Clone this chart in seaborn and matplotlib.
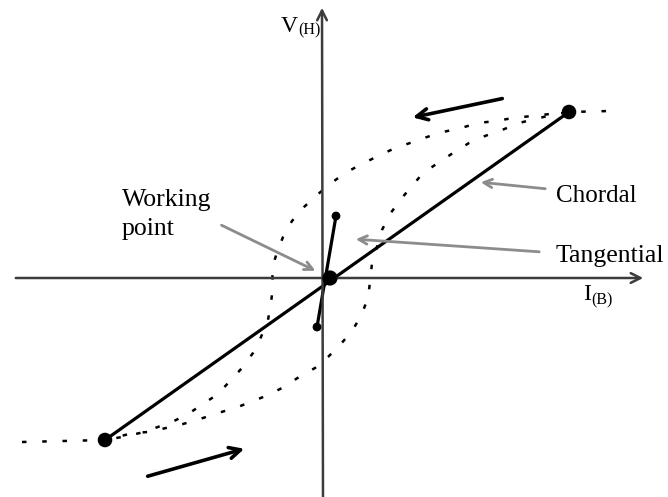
import numpy as np
import pandas as pd
import matplotlib
matplotlib.use("Agg")
import matplotlib.pyplot as plt
import seaborn as sns

# ---- data (arbitrary units, origin at the axes crossing) ----
desc_I = [2.46, 2.27, 2.09, 1.90, 1.73, 1.55, 1.38, 1.20, 1.04, 0.87, 0.70, 0.53,
          0.37, 0.22, 0.07, -0.06, -0.19, -0.31, -0.40, -0.46, -0.51, -0.50, -0.52,
          -0.55, -0.62, -0.70, -0.81, -0.93, -1.05, -1.20, -1.35, -1.51, -1.68,
          -1.83, -2.01, -2.18]
desc_V = [1.66, 1.64, 1.62, 1.60, 1.57, 1.55, 1.50, 1.46, 1.41, 1.35, 1.29, 1.21,
          1.13, 1.05, 0.94, 0.83, 0.71, 0.57, 0.41, 0.26, 0.09, -0.08, -0.25,
          -0.42, -0.59, -0.75, -0.90, -1.03, -1.16, -1.26, -1.36, -1.44, -1.50,
          -1.55, -1.59, -1.62]
asc_I = [-3.01, -2.18, -2.06, -1.90, -1.75, -1.57, -1.40, -1.23, -1.05, -0.88, -0.72,
         -0.55, -0.39, -0.24, -0.08, 0.05, 0.17, 0.29, 0.38, 0.45, 0.47, 0.49,
         0.54, 0.59, 0.67, 0.78, 0.89, 1.00, 1.15, 1.30, 1.46, 1.62, 1.79, 1.96,
         2.12, 2.29, 2.46, 2.87]
asc_V = [-1.64, -1.62, -1.59, -1.55, -1.54, -1.50, -1.46, -1.41, -1.35, -1.30, -1.24,
         -1.17, -1.09, -0.99, -0.90, -0.79, -0.67, -0.53, -0.38, -0.20, -0.04, 0.15,
         0.31, 0.48, 0.64, 0.79, 0.92, 1.05, 1.15, 1.25, 1.35, 1.42, 1.48, 1.55,
         1.59, 1.63, 1.66, 1.67]

chord_I = [-2.18, 2.46]
chord_V = [-1.62, 1.66]
tang_I = [0.13, -0.06]
tang_V = [0.62, -0.49]
work_I = [0.07]
work_V = [0.0]

labels = ["Working\npoint", "Chordal", "Tangential"]

# ---- figure ----
sns.set_style("white")
plt.rcParams["font.family"] = ["Liberation Serif", "DejaVu Serif"]

fig = plt.figure(figsize=(6.68, 4.97), dpi=100)
ax = fig.add_axes([0, 0, 1, 1])
ax.set_xlim(-3.23, 3.45)
ax.set_ylim(-2.19, 2.78)
ax.axis("off")

axis_col = "#3c3c3c"
# coordinate axes
ax.annotate("", xy=(3.23, 0.0), xytext=(-3.10, 0.0),
            arrowprops=dict(arrowstyle="->,head_length=0.7,head_width=0.35",
                            color=axis_col, lw=1.8))
ax.annotate("", xy=(-0.01, 2.73), xytext=(0.0, -2.25),
            arrowprops=dict(arrowstyle="->,head_length=0.7,head_width=0.35",
                            color=axis_col, lw=1.8))

dot_ls = (0, (1.8, 6.3))
df_d = pd.DataFrame({"I": desc_I, "V": desc_V})
df_a = pd.DataFrame({"I": asc_I, "V": asc_V})
sns.lineplot(data=df_d, x="I", y="V", sort=False, estimator=None, ax=ax,
             color="black", lw=1.8, linestyle=dot_ls)
sns.lineplot(data=df_a, x="I", y="V", sort=False, estimator=None, ax=ax,
             color="black", lw=1.8, linestyle=dot_ls)

# chord and tangent
sns.lineplot(x=chord_I, y=chord_V, sort=False, estimator=None, ax=ax,
             color="black", lw=2.3)
sns.lineplot(x=tang_I, y=tang_V, sort=False, estimator=None, ax=ax,
             color="black", lw=2.3)
sns.scatterplot(x=chord_I, y=chord_V, ax=ax, color="black", s=110,
                edgecolor="none", zorder=5)
sns.scatterplot(x=tang_I, y=tang_V, ax=ax, color="black", s=40,
                edgecolor="none", zorder=5)
sns.scatterplot(x=work_I, y=work_V, ax=ax, color="black", s=120,
                edgecolor="none", zorder=6)

# direction arrows
ax.annotate("", xy=(0.87, 1.60), xytext=(1.82, 1.80),
            arrowprops=dict(arrowstyle="->,head_length=0.8,head_width=0.4",
                            color="black", lw=2.6))
ax.annotate("", xy=(-0.76, -1.70), xytext=(-1.78, -1.99),
            arrowprops=dict(arrowstyle="->,head_length=0.8,head_width=0.4",
                            color="black", lw=2.6))

# annotation pointers
gray = "#8c8c8c"
gprops = dict(arrowstyle="->,head_length=0.6,head_width=0.3", color=gray, lw=2.0)
ax.annotate("", xy=(-0.05, 0.06), xytext=(-1.04, 0.54), arrowprops=gprops)
ax.annotate("", xy=(1.55, 0.96), xytext=(2.25, 0.89), arrowprops=gprops)
ax.annotate("", xy=(0.30, 0.39), xytext=(2.19, 0.26), arrowprops=gprops)

fs = 18.5
ax.text(-2.01, 0.72, "Working", fontsize=fs, va="baseline", ha="left", color="black")
ax.text(-2.01, 0.43, "point", fontsize=fs, va="baseline", ha="left", color="black")
ax.text(2.33, 0.76, labels[1], fontsize=18, va="baseline", ha="left", color="black")
ax.text(2.33, 0.16, labels[2], fontsize=fs, va="baseline", ha="left", color="black")

ax.text(-0.42, 2.46, "V", fontsize=17, va="baseline", ha="left", color="black")
ax.text(-0.245, 2.44, "(H)", fontsize=11.5, va="baseline", ha="left", color="black")
ax.text(2.60, -0.22, "I", fontsize=17, va="baseline", ha="left", color="black")
ax.text(2.68, -0.26, "(B)", fontsize=11.5, va="baseline", ha="left", color="black")

fig.savefig("out.png", dpi=100)
